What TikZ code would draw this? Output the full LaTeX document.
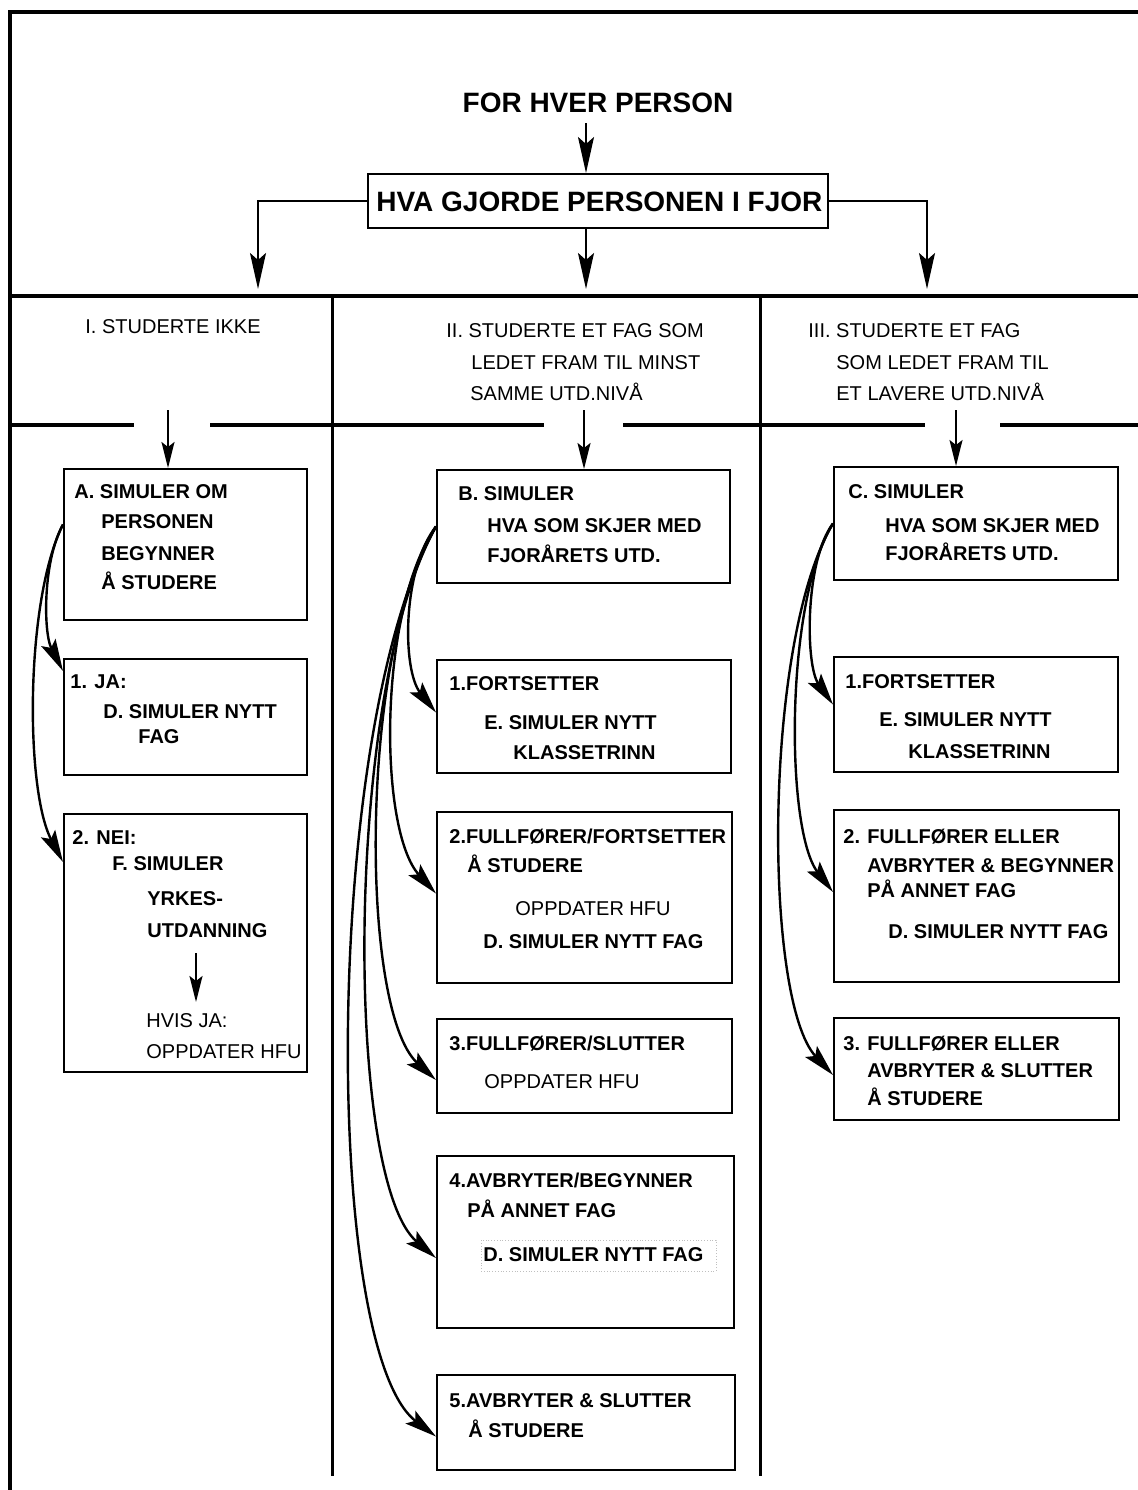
\documentclass[tikz,border=0pt]{standalone}
\usepackage{fontspec}
\setmainfont{Liberation Sans}
\usetikzlibrary{arrows.meta,fit,calc}
\begin{document}
\begin{tikzpicture}[x=0.5pt,y=-0.5pt,
  box/.style={draw, line width=1pt, inner sep=0pt},
  bt/.style={anchor=base west, inner sep=0pt, font=\bfseries\fontsize{10}{12}\selectfont},
  rt/.style={anchor=base west, inner sep=0pt, font=\fontsize{10}{12}\selectfont},
  tt/.style={inner sep=0pt, font=\bfseries\fontsize{14}{16}\selectfont},
  arr/.style={line width=1pt, -{Stealth[length=18pt,width=8pt,inset=3.5pt]}},
  carr/.style={line width=1.2pt, -{Stealth[length=16pt,width=8pt,inset=3pt]}},
  sarr/.style={line width=1pt, -{Stealth[length=13pt,width=6.5pt,inset=2.5pt]}},
  rule/.style={line width=2pt},
  sepline/.style={line width=1.5pt}]
\useasboundingbox (0,0) rectangle (1138,1490);

% frame and grid lines
\draw[rule] (8,12) -- (1138,12);
\draw[rule] (10,12) -- (10,1490);
\draw[rule] (10,296) -- (1138,296);
\draw[rule] (10,425) -- (134,425);
\draw[rule] (210,425) -- (544,425);
\draw[rule] (623,425) -- (925,425);
\draw[rule] (1000,425) -- (1138,425);
\draw[sepline] (332,296) -- (332,1476);
\draw[sepline] (760,296) -- (760,1476);

% title
\node[tt, anchor=base] (T) at (598,112) {FOR HVER PERSON};
\node[box, fit={(368,174) (828,228)}] (H) {};
\node[tt, anchor=base west] (Ht) at (376,211) {HVA GJORDE PERSONEN I FJOR};
\coordinate (t0) at (586,123);
\draw[arr] (t0) -- (H.north -| t0);
\coordinate (c1) at (258,289);
\coordinate (c2) at (586,289);
\coordinate (c3) at (927,289);
\draw[arr] (H.west) -| (c1);
\draw[arr] (H.south -| c2) -- (c2);
\draw[arr] (H.east) -| (c3);

% column headers
\node[rt] (h1) at (85,333) {I. STUDERTE IKKE};
\node[rt] (h2a) at (446,337) {II. STUDERTE ET FAG SOM};
\node[rt] (h2b) at (471,369) {LEDET FRAM TIL MINST};
\node[rt] (h2c) at (470,400) {SAMME UTD.NIVÅ};
\node[rt] (h3a) at (808,337) {III. STUDERTE ET FAG};
\node[rt] (h3b) at (836,369) {SOM LEDET FRAM TIL};
\node[rt] (h3c) at (836,400) {ET LAVERE UTD.NIVÅ};

% column I
\node[box, fit={(64,469) (307,620)}] (A) {};
\node[bt] (At1) at (74,498) {A. SIMULER OM};
\node[bt] (At2) at (101,528) {PERSONEN};
\node[bt] (At3) at (101,560) {BEGYNNER};
\node[bt] (At4) at (101,589) {Å STUDERE};

\node[box, fit={(64,659) (307,775)}] (J) {};
\node[bt] (Jt1) at (70,688) {1. JA:};
\node[bt] (Jt2) at (103,718) {D. SIMULER NYTT};
\node[bt] (Jt3) at (138,743) {FAG};

\node[box, fit={(64,814) (307,1072)}] (N) {};
\node[bt] (Nt1) at (72,844) {2. NEI:};
\node[bt] (Nt2) at (112,870) {F. SIMULER};
\node[bt] (Nt3) at (147,905) {YRKES-};
\node[bt] (Nt4) at (147,937) {UTDANNING};
\node[rt] (Nt5) at (146,1027) {HVIS JA:};
\node[rt] (Nt6) at (146,1058) {OPPDATER HFU};
\coordinate (na) at (196,953);
\draw[sarr] (na) -- (196,1002) coordinate (nb);

\coordinate (s1) at (168,410);
\draw[sarr] (s1) -- (A.north -| s1);
\draw[carr] ($(A.west)+(0,-20)$) .. controls (43,560) and (43,632) .. ($(J.west)+(0,-46)$);
\draw[carr] ($(A.west)+(0,-20)$) .. controls (25,600) and (25,790) .. ($(N.west)+(0,-81)$);

% column II
\node[box, fit={(437,470) (730,583)}] (B) {};
\node[bt] (Bt1) at (458,500) {B. SIMULER};
\node[bt] (Bt2) at (487,532) {HVA SOM SKJER MED};
\node[bt] (Bt3) at (487,562) {FJORÅRETS UTD.};

\node[box, fit={(437,660) (731,773)}] (M1) {};
\node[bt] (M1t1) at (449,690) {1.FORTSETTER};
\node[bt] (M1t2) at (484,729) {E. SIMULER NYTT};
\node[bt] (M1t3) at (513,759) {KLASSETRINN};

\node[box, fit={(437,812) (732,983)}] (M2) {};
\node[bt] (M2t1) at (449,843) {2.FULLFØRER/FORTSETTER};
\node[bt] (M2t2) at (467,872) {Å STUDERE};
\node[rt] (M2t3) at (515,915) {OPPDATER HFU};
\node[bt] (M2t4) at (483,948) {D. SIMULER NYTT FAG};

\node[box, fit={(437,1019) (732,1113)}] (M3) {};
\node[bt] (M3t1) at (449,1050) {3.FULLFØRER/SLUTTER};
\node[rt] (M3t2) at (484,1088) {OPPDATER HFU};

\node[box, fit={(437,1156) (734,1328)}] (M4) {};
\node[bt] (M4t1) at (449,1187) {4.AVBRYTER/BEGYNNER};
\node[bt] (M4t2) at (467,1217) {PÅ ANNET FAG};
\node[draw=gray!50, densely dotted, line width=0.4pt, inner sep=0pt, fit={(481,1240) (716,1271)}] (M4d) {};
\node[bt] (M4t3) at (483,1261) {D. SIMULER NYTT FAG};

\node[box, fit={(437,1375) (735,1470)}] (M5) {};
\node[bt] (M5t1) at (449,1407) {5.AVBRYTER \& SLUTTER};
\node[bt] (M5t2) at (468,1437) {Å STUDERE};

\coordinate (s2) at (584,410);
\draw[sarr] (s2) -- (B.north -| s2);
\draw[carr] (B.west) .. controls (402,570) and (402,670) .. ($(M1.west)+(0,-4)$);
\draw[carr] (B.west) .. controls (378,610) and (378,830) .. ($(M2.west)+(0,-4)$);
\draw[carr] (B.west) .. controls (359,650) and (359,1010) .. ($(M3.west)+(0,14)$);
\draw[carr] (B.west) .. controls (344,690) and (344,1180) .. ($(M4.west)+(0,16)$);
\draw[carr] (B.west) .. controls (322,730) and (322,1350) .. ($(M5.west)+(0,14)$);

% column III
\node[box, fit={(834,467) (1118,580)}] (C) {};
\node[bt] (Ct1) at (848,498) {C. SIMULER};
\node[bt] (Ct2) at (885,532) {HVA SOM SKJER MED};
\node[bt] (Ct3) at (885,560) {FJORÅRETS UTD.};

\node[box, fit={(834,657) (1118,772)}] (R1) {};
\node[bt] (R1t1) at (845,688) {1.FORTSETTER};
\node[bt] (R1t2) at (879,726) {E. SIMULER NYTT};
\node[bt] (R1t3) at (908,758) {KLASSETRINN};

\node[box, fit={(834,810) (1119,982)}] (R2) {};
\node[bt] (R2t1) at (843,843) {2. FULLFØRER ELLER};
\node[bt] (R2t2) at (867,872) {AVBRYTER \& BEGYNNER};
\node[bt] (R2t3) at (867,897) {PÅ ANNET FAG};
\node[bt] (R2t4) at (888,938) {D. SIMULER NYTT FAG};

\node[box, fit={(834,1018) (1119,1120)}] (R3) {};
\node[bt] (R3t1) at (843,1050) {3. FULLFØRER ELLER};
\node[bt] (R3t2) at (867,1077) {AVBRYTER \& SLUTTER};
\node[bt] (R3t3) at (867,1105) {Å STUDERE};

\coordinate (s3) at (956,410);
\draw[sarr] (s3) -- (C.north -| s3);
\draw[carr] (C.west) .. controls (805,560) and (805,665) .. ($(R1.west)+(0,-10)$);
\draw[carr] (C.west) .. controls (785,600) and (785,830) .. ($(R2.west)+(0,-4)$);
\draw[carr] (C.west) .. controls (763,640) and (763,1000) .. ($(R3.west)+(0,6)$);
\end{tikzpicture}
\end{document}
